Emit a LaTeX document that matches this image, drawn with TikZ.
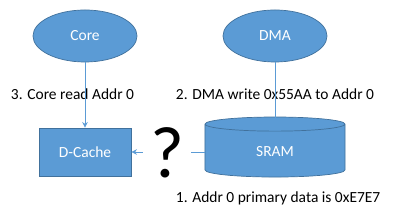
\documentclass[tikz,border=0pt]{standalone}
\usepackage{fontspec}
\setmainfont{Carlito}
\usepackage{tikz}
\usetikzlibrary{positioning,arrows.meta,shapes.geometric}
\definecolor{officeblue}{HTML}{5B9BD5}
\definecolor{officeedge}{HTML}{41719C}

\begin{document}
\begin{tikzpicture}[x=0.025cm, y=-0.025cm, >={Stealth[length=4pt,width=4pt]},
    unit/.style={fill=officeblue, draw=officeedge, line width=0.5pt, text=white, font=\fontsize{11}{13}\selectfont},
    link/.style={draw=officeblue, line width=0.6pt, ->},
    note/.style={font=\fontsize{11}{13}\selectfont, anchor=west}]
    \useasboundingbox (0,0) rectangle (400,214);

    % Core and DMA
    \node[unit, ellipse, minimum width=2.6cm, minimum height=1.3cm] (core) at (85, 36) {Core};
    \node[unit, ellipse, minimum width=2.6cm, minimum height=1.3cm] (dma) at (275, 36) {DMA};

    % D-Cache
    \node[unit, rectangle, minimum width=2.3cm, minimum height=1.2cm] (dcache) at (85, 152) {D-Cache};

    % SRAM
    \node[unit, cylinder, shape border rotate=90, aspect=0.3, minimum width=3.5cm, minimum height=1.5cm] (sram) at (275, 152) {SRAM};

    % labels
    \node[note] (readnote) at (6, 94) {3. Core read Addr 0};
    \node[note] (writenote) at (171, 94) {2. DMA write 0x55AA to Addr 0};
    \node[note] (datanote) at (171, 198) {1. Addr 0 primary data is 0xE7E7};

    % connectors
    \draw[link] (core) -- (dcache);
    \draw[link] (dma) -- (sram.before top -| dma);
    \draw[link] (sram.west |- dcache) -- (dcache);
    \node[fill=white, inner xsep=5pt, inner ysep=1pt, font=\fontsize{52}{52}\selectfont] (ask) at (167, 153) {?};
\end{tikzpicture}
\end{document}
